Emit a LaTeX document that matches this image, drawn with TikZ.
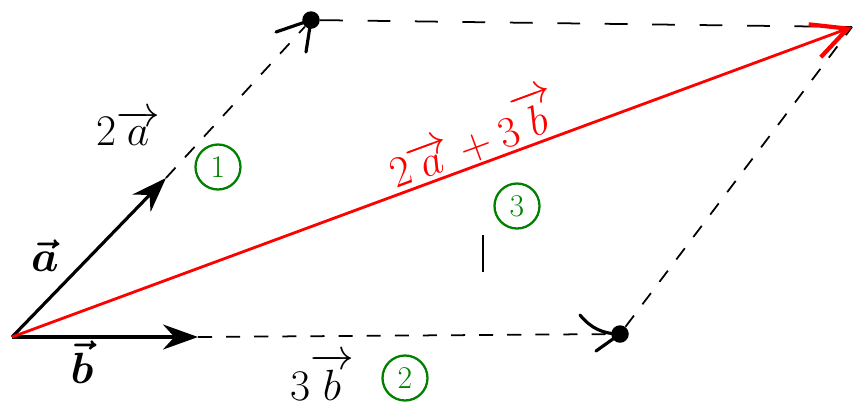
\documentclass[tikz,border=0pt]{standalone}
\usepackage{amsmath}
\usetikzlibrary{arrows.meta}

\begin{document}
\begin{tikzpicture}[x=0.02cm, y=-0.02cm, every node/.style={font=\fontsize{24}{26}\selectfont}, vecline/.style={-{Stealth[length=7mm,width=5mm]}, line width=1.8pt}, guide/.style={line width=1pt, dash pattern=on 8pt off 8pt}, sumline/.style={red, line width=1.6pt, -{Straight Barb[length=7mm,width=7mm,line width=2.4pt]}}, tag/.style={circle, draw=green!50!black, text=green!50!black, line width=1.3pt, minimum size=0.9cm, inner sep=0pt, font=\fontsize{18}{20}\selectfont}, dot/.style={circle, fill, inner sep=0pt, minimum size=3.5mm}, mark stroke/.style={line width=1.8pt, line cap=round}]
\useasboundingbox (0,0) rectangle (855,414);
\coordinate (O) at (12,337);
\coordinate (A) at (166,178);
\coordinate (B) at (198,337);
\coordinate (P) at (852,27);
\node[dot] (A2) at (311,20) {};
\node[dot] (B3) at (620,334) {};
\draw[vecline] (O) -- (A);
\draw[vecline] (O) -- (B);
\draw[guide] (A) -- (A2);
\draw[guide] (B) -- (B3);
\draw[guide, dash pattern=on 13pt off 14pt] (A2) -- (P);
\draw[guide] (B3) -- (P);
\draw[sumline] (O) -- (P) node[pos=0.56, above, sloped, inner sep=1pt, text=red] (sum) {$2\overrightarrow{a}+3\overrightarrow{b}$};
% compass marks
\draw[mark stroke] (276,32) -- (A2.center) -- (306,52);
\draw[mark stroke] (580,315) to[bend right=25] (B3.center) -- (596,351);
\draw[line width=0.6pt] (483,235) -- (483,272);
\node (la2) at (128,128) {$2\overrightarrow{a}$};
\node (la) at (45,256) {$\boldsymbol{\vec{a}}$};
\node (lb) at (82,362) {$\boldsymbol{\vec{b}}$};
\node (lb3) at (322,377) {$3\overrightarrow{b}$};
\node[tag] (t1) at (218,167) {1};
\node[tag] (t2) at (405,378) {2};
\node[tag] (t3) at (517,206) {3};
\end{tikzpicture}
\end{document}
